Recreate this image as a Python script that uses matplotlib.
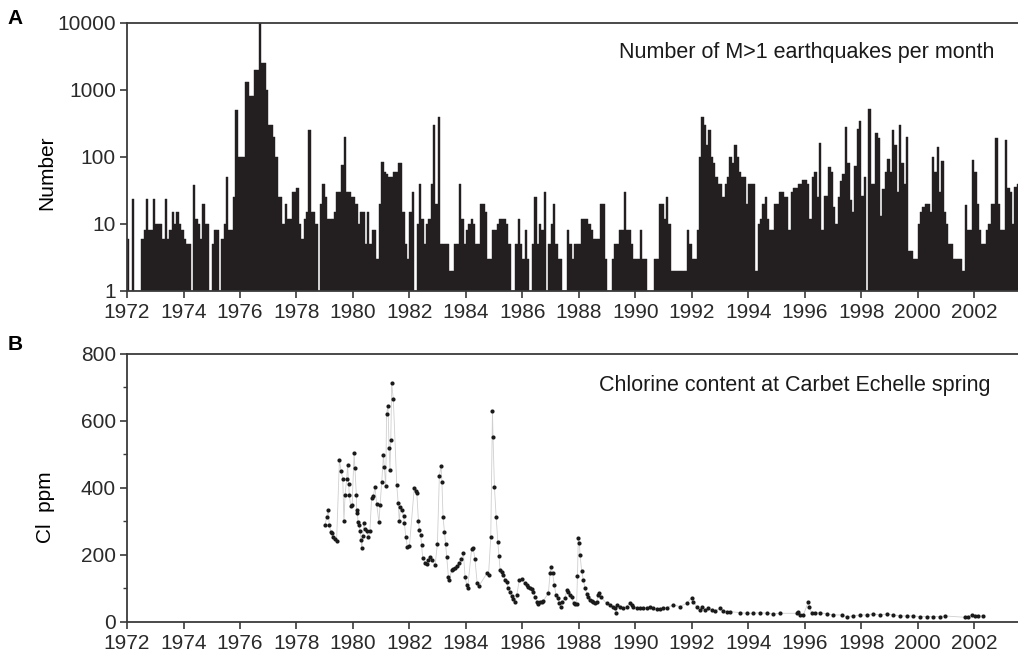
import numpy as np
import matplotlib.pyplot as plt
from matplotlib.ticker import FixedLocator, NullLocator, MultipleLocator, FuncFormatter

plt.rcParams['font.family'] = ['Liberation Sans', 'DejaVu Sans']

# monthly number of M>1 earthquakes, Jan 1972 onwards (12 values per year)
quakes_1970s = [
    6, 1, 24, 1, 1, 1, 6, 8, 24, 8, 8, 24,                      # 1972
    10, 10, 10, 6, 24, 6, 8, 15, 10, 15, 10, 8,                 # 1973
    6, 5, 5, 1, 38, 12, 10, 6, 20, 10, 10, 1,                   # 1974
    5, 8, 8, 1, 6, 10, 50, 8, 8, 25, 500, 100,                  # 1975
    100, 100, 1300, 1300, 800, 800, 2000, 2000, 10000, 2500, 2500, 1000,  # 1976
    300, 300, 200, 100, 25, 25, 10, 20, 12, 12, 30, 30,         # 1977
    35, 10, 6, 12, 15, 250, 15, 15, 10, 1, 20, 40,              # 1978
    25, 12, 12, 12, 15, 30, 30, 75, 200, 30, 30, 25,            # 1979
]
quakes_1980s = [
    25, 20, 10, 15, 15, 5, 15, 5, 8, 8, 3, 20,                  # 1980
    85, 60, 55, 50, 50, 60, 60, 80, 80, 15, 5, 3,               # 1981
    15, 30, 1, 10, 40, 12, 5, 10, 12, 40, 300, 20,              # 1982
    400, 5, 5, 5, 5, 2, 2, 5, 5, 40, 12, 5,                     # 1983
    8, 10, 12, 10, 5, 5, 20, 20, 15, 3, 3, 8,                   # 1984
    8, 10, 12, 12, 12, 10, 5, 1, 1, 5, 12, 5,                   # 1985
    3, 8, 3, 1, 5, 25, 5, 10, 8, 30, 1, 5,                      # 1986
    10, 20, 5, 3, 3, 1, 1, 8, 5, 3, 5, 5,                       # 1987
    5, 12, 12, 12, 10, 8, 6, 6, 6, 20, 20, 3,                   # 1988
    1, 1, 3, 5, 5, 8, 8, 30, 8, 8, 5, 3,                        # 1989
]
quakes_1990s = [
    3, 3, 8, 3, 3, 1, 1, 1, 3, 3, 20, 20,                       # 1990
    12, 25, 10, 2, 2, 2, 2, 2, 2, 2, 8, 5,                      # 1991
    3, 3, 8, 100, 400, 300, 150, 250, 100, 80, 50, 40,          # 1992
    40, 25, 40, 50, 100, 80, 150, 100, 60, 50, 50, 20,          # 1993
    40, 40, 40, 2, 10, 12, 20, 25, 12, 8, 8, 20,                # 1994
    20, 30, 30, 25, 25, 8, 30, 35, 35, 40, 40, 45,              # 1995
    45, 40, 12, 50, 60, 25, 160, 8, 26, 26, 70, 60,             # 1996
    18, 10, 25, 44, 55, 280, 80, 23, 15, 73, 260, 340,          # 1997
    26, 50, 1, 520, 40, 40, 230, 195, 13, 33, 60, 94,           # 1998
    60, 250, 150, 30, 300, 80, 40, 200, 4, 4, 3, 3,             # 1999
]
quakes_2000s = [
    10, 15, 18, 20, 20, 15, 100, 60, 140, 30, 87, 15,           # 2000
    10, 5, 5, 3, 3, 3, 3, 2, 19, 8, 8, 89,                      # 2001
    60, 20, 8, 5, 5, 8, 10, 20, 20, 190, 20, 8,                 # 2002
    8, 180, 35, 30, 10, 36, 40,                                 # 2003
]

# chlorine content at Carbet Echelle spring (decimal year, ppm)
cl_year_early = [
    1979.01, 1979.07, 1979.13, 1979.16, 1979.22, 1979.27, 1979.31, 1979.37, 1979.42, 1979.52,
    1979.58, 1979.64, 1979.68, 1979.72, 1979.78, 1979.81, 1979.85, 1979.87, 1979.92, 1979.97,
    1980.04, 1980.07, 1980.12, 1980.13, 1980.16, 1980.18, 1980.22, 1980.25, 1980.29, 1980.31,
    1980.35, 1980.38, 1980.43, 1980.49, 1980.55, 1980.60, 1980.66, 1980.72, 1980.78, 1980.84,
    1980.92, 1980.96, 1981.02, 1981.08, 1981.11, 1981.16, 1981.19, 1981.24, 1981.28, 1981.31,
    1981.34, 1981.37, 1981.43, 1981.55, 1981.60, 1981.64, 1981.68, 1981.73, 1981.79, 1981.82,
    1981.87, 1981.93, 1982.00, 1982.17, 1982.22, 1982.26, 1982.32, 1982.35, 1982.40, 1982.43,
    1982.47, 1982.55, 1982.61, 1982.67, 1982.73, 1982.79, 1982.91, 1982.99, 1983.06, 1983.12,
    1983.15, 1983.19, 1983.24, 1983.28, 1983.32, 1983.38, 1983.41, 1983.50, 1983.55, 1983.61,
    1983.70, 1983.77, 1983.83, 1983.91, 1983.97, 1984.03, 1984.06, 1984.20, 1984.26, 1984.32,
    1984.40, 1984.46, 1984.74, 1984.80, 1984.88, 1984.94, 1984.96, 1985.01, 1985.07, 1985.13,
    1985.17, 1985.21, 1985.27, 1985.33, 1985.39, 1985.44, 1985.50, 1985.56, 1985.62, 1985.68,
    1985.74, 1985.80, 1985.89, 1985.98, 1986.09, 1986.15, 1986.21, 1986.27, 1986.33, 1986.39,
    1986.45, 1986.51, 1986.57, 1986.62, 1986.68, 1986.74,
]
cl_ppm_early = [
    288, 314, 334, 288, 270, 265, 253, 248, 242, 482,
    451, 426, 300, 379, 428, 468, 412, 379, 346, 349,
    503, 459, 379, 334, 324, 297, 290, 273, 245, 220,
    257, 295, 279, 273, 253, 273, 369, 376, 402, 352,
    297, 349, 419, 498, 462, 405, 621, 645, 518, 455,
    543, 712, 665, 409, 356, 300, 343, 334, 316, 295,
    255, 223, 227, 399, 392, 386, 300, 275, 259, 230,
    190, 177, 173, 185, 195, 185, 170, 233, 436, 466,
    419, 312, 270, 233, 195, 135, 125, 156, 158, 160,
    167, 175, 187, 205, 135, 110, 100, 217, 220, 187,
    115, 107, 145, 140, 253, 630, 553, 402, 314, 240,
    197, 155, 150, 140, 125, 120, 100, 90, 78, 68,
    60, 80, 125, 127, 117, 110, 105, 100, 97, 90,
    75, 60, 55, 60, 60, 63,
]
cl_year_late = [
    1986.92, 1986.98, 1987.01, 1987.07, 1987.13, 1987.19, 1987.25, 1987.31, 1987.36, 1987.41,
    1987.51, 1987.57, 1987.63, 1987.69, 1987.75, 1987.81, 1987.86, 1987.92, 1987.95, 1987.98,
    1988.02, 1988.04, 1988.10, 1988.16, 1988.22, 1988.28, 1988.34, 1988.40, 1988.45, 1988.51,
    1988.57, 1988.63, 1988.69, 1988.72, 1988.77, 1988.98, 1989.10, 1989.20, 1989.28, 1989.31,
    1989.36, 1989.46, 1989.58, 1989.69, 1989.81, 1989.87, 1989.93, 1990.05, 1990.17, 1990.28,
    1990.40, 1990.52, 1990.64, 1990.76, 1990.87, 1990.99, 1991.11, 1991.35, 1991.58, 1991.82,
    1992.00, 1992.05, 1992.17, 1992.29, 1992.35, 1992.47, 1992.59, 1992.70, 1992.82, 1993.00,
    1993.12, 1993.23, 1993.35, 1993.71, 1993.94, 1994.18, 1994.42, 1994.65, 1994.89, 1995.12,
    1995.71, 1995.77, 1995.83, 1995.95, 1996.13, 1996.16, 1996.24, 1996.36, 1996.54, 1996.78,
    1997.01, 1997.31, 1997.48, 1997.72, 1997.96, 1998.19, 1998.43, 1998.66, 1998.90, 1999.14,
    1999.37, 1999.61, 1999.84, 2000.08, 2000.32, 2000.55, 2000.79, 2000.97, 2001.67, 2001.79,
    2001.91, 2002.03, 2002.15, 2002.32,
]
cl_ppm_late = [
    86, 145, 165, 145, 110, 81, 71, 56, 46, 61,
    71, 95, 90, 80, 75, 56, 54, 54, 137, 250,
    235, 200, 152, 125, 100, 85, 75, 66, 64, 61,
    58, 61, 81, 86, 75, 56, 51, 46, 41, 28,
    51, 46, 41, 46, 56, 51, 46, 41, 41, 41,
    43, 46, 41, 38, 40, 41, 43, 51, 46, 56,
    73, 61, 46, 36, 46, 36, 41, 36, 33, 41,
    34, 31, 31, 28, 26, 26, 28, 26, 24, 26,
    26, 31, 21, 21, 61, 44, 28, 26, 28, 24,
    21, 21, 16, 18, 21, 21, 24, 21, 24, 21,
    18, 18, 18, 16, 16, 16, 16, 18, 14, 16,
    21, 18, 18, 18,
]

counts = np.array(quakes_1970s + quakes_1980s + quakes_1990s + quakes_2000s)
months = 1972 + np.arange(len(counts)) / 12.0
cl_year = cl_year_early + cl_year_late
cl_ppm = cl_ppm_early + cl_ppm_late

ink = '#231f20'
axis_col = '#3a3a3a'
xmin, xmax = 1972, 2003.55

fig = plt.figure(figsize=(10.18, 6.6), dpi=100)
ax1 = fig.add_axes([0.1248, 0.5591, 0.8752, 0.4061])
ax2 = fig.add_axes([0.1248, 0.0576, 0.8752, 0.4061])

# A: earthquake counts
ax1.bar(months, counts, width=1/12, align='edge', color=ink, edgecolor=ink, linewidth=0.3)
ax1.set_yscale('log')
ax1.set_ylim(1, 10000)
ax1.yaxis.set_major_locator(FixedLocator([1, 10, 100, 1000, 10000]))
ax1.yaxis.set_minor_locator(NullLocator())
ax1.yaxis.set_major_formatter(FuncFormatter(lambda v, p: f'{v:g}'))
ax1.set_ylabel('Number', fontsize=15)
ax1.yaxis.set_label_coords(-0.079, 0.44)
ax1.text(0.974, 0.888, 'Number of M>1 earthquakes per month', transform=ax1.transAxes,
         ha='right', va='center', fontsize=15.5, color='#1a1a1a')

# B: chlorine
ax2.plot(cl_year, cl_ppm, color='#cfcfcf', lw=0.6, zorder=1)
ax2.plot(cl_year, cl_ppm, 'o', color='#1a1a1a', ms=3.0, mew=0, zorder=2)
ax2.set_ylim(0, 800)
ax2.yaxis.set_major_locator(MultipleLocator(200))
ax2.yaxis.set_minor_locator(MultipleLocator(100))
ax2.set_ylabel('Cl  ppm', fontsize=15)
ax2.yaxis.set_label_coords(-0.081, 0.43)
ax2.text(0.9686, 0.884, 'Chlorine content at Carbet Echelle spring', transform=ax2.transAxes,
         ha='right', va='center', fontsize=15.5, color='#1a1a1a')

for ax in (ax1, ax2):
    ax.set_xlim(xmin, xmax)
    ax.set_xticks(range(1972, 2004, 2))
    ax.spines['right'].set_visible(False)
    for s in ('top', 'left', 'bottom'):
        ax.spines[s].set_linewidth(1.3)
        ax.spines[s].set_color(axis_col)
    ax.tick_params(which='major', direction='out', length=5, width=1.2, labelsize=15,
                   color=axis_col, labelcolor='#2a2a2a')
    ax.tick_params(axis='x', which='major', pad=4)
    ax.tick_params(axis='y', which='major', pad=3)
    ax.tick_params(which='minor', direction='out', length=3, width=1.0, color=axis_col)
    ax.tick_params(axis='x', which='minor', bottom=False)

fig.text(15/1018, 1 - 18/660, 'A', fontsize=15, fontweight='bold', ha='center', va='center')
fig.text(15/1018, 1 - 345/660, 'B', fontsize=15, fontweight='bold', ha='center', va='center')

fig.savefig('out.png', dpi=100)
